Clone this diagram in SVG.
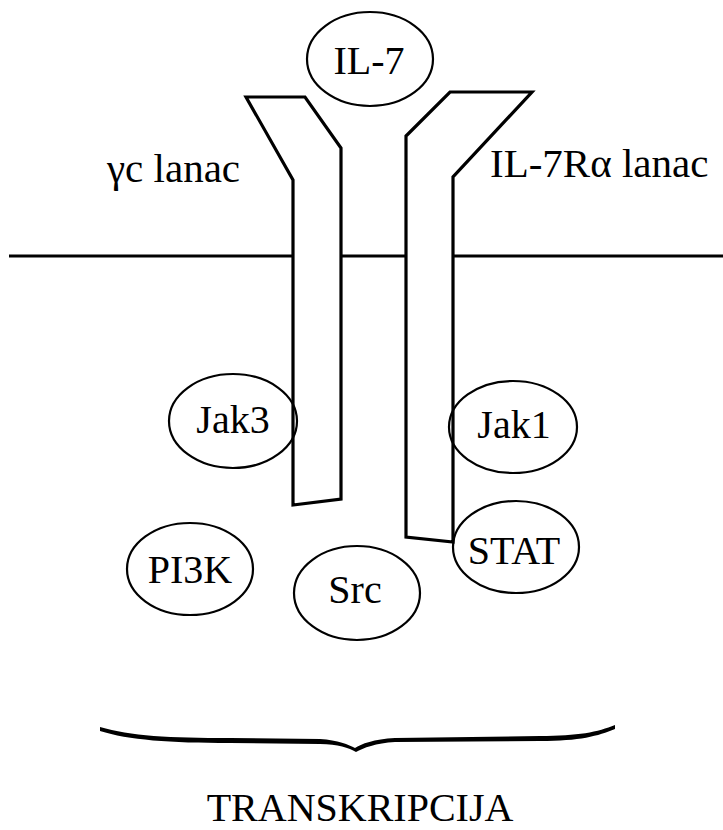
<svg xmlns="http://www.w3.org/2000/svg" width="723" height="830" viewBox="0 0 723 830">
<style>
  text { font-family: "Liberation Serif", "DejaVu Serif", "Times New Roman", serif; fill: #000; }
  .lbl { font-size: 41px; }
  .nt { font-size: 40px; text-anchor: middle; }
  .node { fill: none; stroke: #000; stroke-width: 2.2; }
  .rec { fill: #fff; stroke: #000; stroke-width: 3.2; stroke-linejoin: miter; }
  .mem { stroke: #000; stroke-width: 3; fill: none; }
</style>
<rect width="723" height="830" fill="#fff"/>
<g id="membrane">
  <line class="mem" x1="9" y1="256" x2="723" y2="256"/>
</g>
<g id="gamma-c-chain">
  <polygon class="rec" points="246,97 305,97 341,148 341,499 293,505 293,180"/>
  <text class="lbl" x="107" y="182">γc lanac</text>
</g>
<g id="il7ra-chain">
  <polygon class="rec" points="450,92 532,92 453,177 453,542 406,537 406,136"/>
  <text class="lbl" x="490" y="177">IL-7Rα lanac</text>
</g>
<g id="il7">
  <ellipse class="node" cx="370" cy="59" rx="63" ry="47"/>
  <text class="nt" x="369" y="74">IL-7</text>
</g>
<g id="jak3">
  <ellipse class="node" cx="233" cy="421" rx="64" ry="47"/>
  <text class="nt" x="233" y="433">Jak3</text>
</g>
<g id="jak1">
  <ellipse class="node" cx="513" cy="427" rx="64" ry="46"/>
  <text class="nt" x="514" y="438">Jak1</text>
</g>
<g id="stat">
  <ellipse class="node" cx="516" cy="547" rx="63" ry="46"/>
  <text class="nt" x="514" y="564">STAT</text>
</g>
<g id="pi3k">
  <ellipse class="node" cx="190" cy="569" rx="63" ry="46"/>
  <text class="nt" x="190" y="583">PI3K</text>
</g>
<g id="src">
  <ellipse class="node" cx="357" cy="593" rx="63" ry="47"/>
  <text class="nt" x="355" y="603">Src</text>
</g>
<g id="brace">
  <path fill="#000" d="M100,727 C130,736 170,738 230,738 L320,739 C338,740 349,745 355,748 C361,744 374,739 395,738 L540,736 C578,736 598,732 615,725 L615,729 C598,736 580,741 540,741 L395,742 C376,743 363,748 356,752 C349,748 338,744 320,744 L230,743 C170,743 128,740 100,731 Z"/>
</g>
<g id="transcription">
  <text class="nt" x="360" y="821">TRANSKRIPCIJA</text>
</g>
</svg>
